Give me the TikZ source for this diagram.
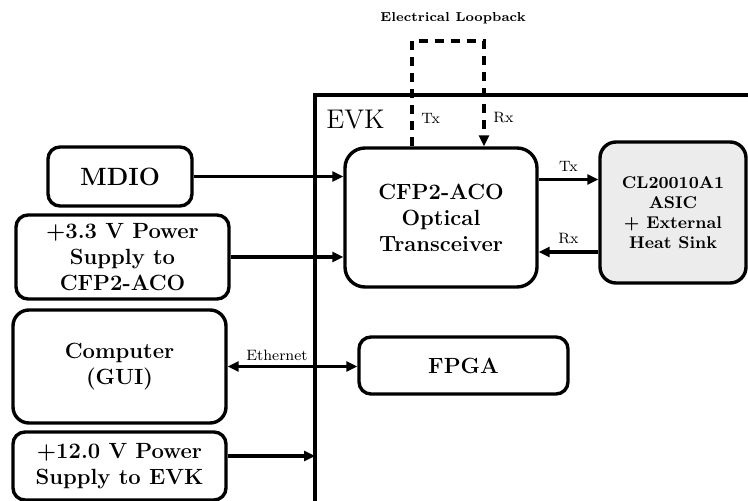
\documentclass[tikz,border=0pt]{standalone}
\usepackage{tikz}
\usetikzlibrary{arrows.meta,calc}

\begin{document}
\begin{tikzpicture}[x=0.5pt, y=-0.5pt, >={Triangle[length=5.5pt,width=5pt]},
    blk/.style={draw, line width=1.7pt, rounded corners=6pt, align=center, inner sep=0pt,
      font=\fontsize{11}{13}\selectfont\bfseries},
    lnk/.style={line width=1.7pt},
    loopline/.style={line width=1.7pt, dash pattern=on 4.5pt off 3.5pt},
    tag/.style={font=\fontsize{7.5}{8}\selectfont, inner sep=1pt}]
    \useasboundingbox (0,0) rectangle (748,501);

    % EVK board outline, it runs off the page
    \coordinate (evkbl) at (315,501);
    \coordinate (evktl) at (315,95);
    \coordinate (evktr) at (748,95);
    \draw[lnk] (evkbl) -- (evktl) -- (evktr);
    \node[anchor=west, inner sep=0pt, font=\fontsize{13.5}{15}\selectfont] (evk) at (326,120) {EVK};

    % outside the board
    \node[blk, minimum width=72pt, minimum height=29.5pt, font=\fontsize{12.5}{14}\selectfont\bfseries] (mdio) at (120,176.5) {MDIO};
    \node[blk, minimum width=106.5pt, minimum height=42pt] (psu33) at (122.5,257) {+3.3 V Power\\Supply to\\CFP2-ACO};
    \node[blk, rounded corners=8pt, minimum width=106.5pt, minimum height=56.5pt] (pc) at (119.5,366.5) {Computer\\(GUI)};
    \node[blk, minimum width=106.5pt, minimum height=34pt] (psu12) at (119.5,466) {+12.0 V Power\\Supply to EVK};

    % on the board
    \node[blk, rounded corners=10pt, minimum width=96pt, minimum height=69.5pt] (cfp) at (441,217.5) {CFP2-ACO\\Optical\\Transceiver};
    \node[blk, rounded corners=8pt, fill=gray!15, minimum width=73pt, minimum height=70.5pt,
      font=\fontsize{8.5}{10}\selectfont\bfseries] (asic) at (673,212.5) {CL20010A1\\ASIC\\+ External\\Heat Sink};
    \node[blk, minimum width=104.5pt, minimum height=28.5pt] (fpga) at (463.5,365.5) {FPGA};

    % connections
    \draw[lnk, ->] (mdio.east) -- (mdio.east -| cfp.west);
    \draw[lnk, ->] (psu33.east) -- (psu33.east -| cfp.west);
    \draw[lnk, <->] (pc.east) -- (pc.east -| fpga.west) node[pos=0.38, above=1pt, tag] (ethlbl) {Ethernet};
    \draw[lnk, ->] ([yshift=5pt]psu12.east) -- ([yshift=5pt]psu12.east -| evkbl);
    \draw[lnk, ->] ([yshift=19pt]cfp.east) -- ([yshift=19pt]cfp.east -| asic.west) node[midway, above=2pt, tag] (txlbl) {Tx};
    \draw[lnk, <-] ([yshift=-17.25pt]cfp.east) -- ([yshift=-17.25pt]cfp.east -| asic.west) node[midway, above=2pt, tag] (rxlbl) {Rx};

    % electrical loopback
    \coordinate (lbtx) at (412,41);
    \coordinate (lbrx) at (484,41);
    \draw[loopline, ->] (lbtx |- cfp.north) -- (lbtx) -- (lbrx) -- (lbrx |- cfp.north);
    \node[tag, anchor=west] (lbtxlbl) at (419,118) {Tx};
    \node[tag, anchor=west] (lbrxlbl) at (491,118) {Rx};
    \node[tag, font=\fontsize{6.5}{8}\selectfont\bfseries] (lblbl) at (453,18) {Electrical Loopback};
\end{tikzpicture}
\end{document}
